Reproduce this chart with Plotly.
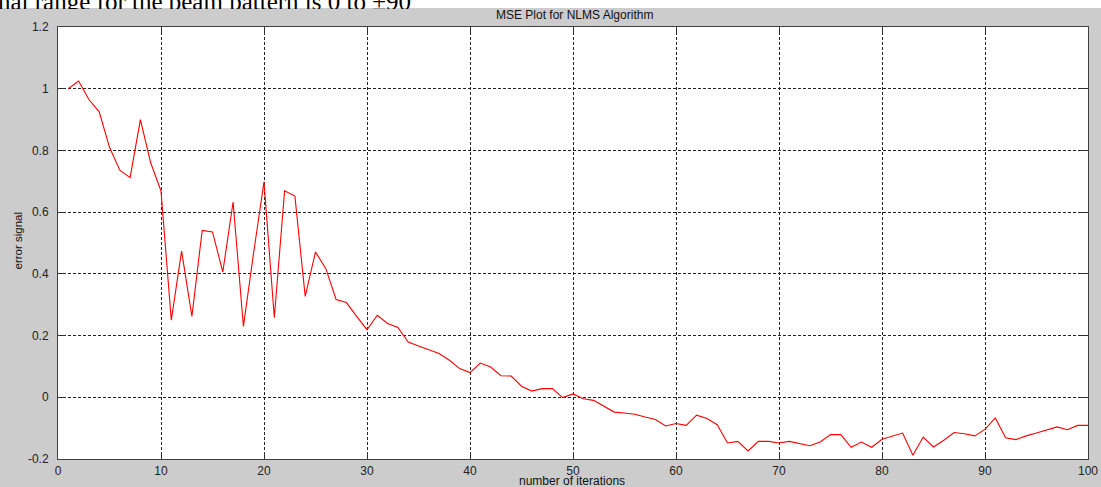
import plotly.graph_objects as go

# ---------------- data ----------------
iterations = list(range(1, 101))
error_signal = [
    1.000, 1.025, 0.965, 0.925, 0.810, 0.736, 0.712, 0.900, 0.760, 0.668,
    0.250, 0.474, 0.262, 0.541, 0.536, 0.406, 0.633, 0.230, 0.470, 0.698,
    0.258, 0.669, 0.652, 0.327, 0.471, 0.417, 0.317, 0.307, 0.262, 0.219,
    0.266, 0.239, 0.226, 0.179, 0.166, 0.155, 0.142, 0.120, 0.093, 0.080,
    0.111, 0.098, 0.070, 0.069, 0.036, 0.020, 0.028, 0.028, -0.001, 0.011,
    -0.005, -0.010, -0.029, -0.048, -0.051, -0.055, -0.064, -0.072, -0.093, -0.085,
    -0.091, -0.058, -0.069, -0.089, -0.148, -0.143, -0.174, -0.143, -0.143, -0.148,
    -0.143, -0.150, -0.157, -0.145, -0.121, -0.121, -0.162, -0.145, -0.162, -0.136,
    -0.126, -0.116, -0.188, -0.129, -0.161, -0.139, -0.114, -0.118, -0.125, -0.104,
    -0.067, -0.131, -0.137, -0.125, -0.116, -0.105, -0.096, -0.105, -0.091, -0.091,
]
x_ticks = [0, 10, 20, 30, 40, 50, 60, 70, 80, 90, 100]
y_ticks = [-0.2, 0, 0.2, 0.4, 0.6, 0.8, 1.0, 1.2]
y_tick_text = ["-0.2", "0", "0.2", "0.4", "0.6", "0.8", "1", "1.2"]

title_text = "MSE Plot for NLMS Algorithm"
x_title = "number of iterations"
y_title = "error signal"
header_text = "nal range for the beam pattern is 0 to \u00b190"

# ---------------- layout geometry ----------------
W, H = 1101, 487
L, R, T, B = 57.5, 1088.0, 27.0, 459.0
PW, PH = R - L, B - T


def px(xp):
    return (xp - L) / PW


def py(yp):
    return (B - yp) / PH


GRAY = "#cccccc"
SANS = "Liberation Sans, Arial, sans-serif"

fig = go.Figure()
fig.add_trace(go.Scatter(
    x=iterations, y=error_signal, mode="lines",
    line=dict(color="#ff0000", width=1.1), showlegend=False,
))

axis_common = dict(
    showline=True, linecolor="#404040", linewidth=1, mirror="ticks",
    ticks="inside", ticklen=7, tickcolor="#303030", tickwidth=1,
    showgrid=True, gridcolor="#222222", gridwidth=1, griddash="3px,2px",
    zeroline=False, automargin=False,
    tickfont=dict(family=SANS, size=12, color="#222222"),
)

fig.update_xaxes(range=[0, 100], tickvals=x_ticks, ticklabelstandoff=1, **axis_common)
fig.update_yaxes(range=[-0.2, 1.2], tickvals=y_ticks, ticktext=y_tick_text,
                 ticklabelstandoff=6, **axis_common)

fig.update_layout(
    width=W, height=H, autosize=False,
    margin=dict(l=L, r=W - R, t=T, b=H - B, pad=0, autoexpand=False),
    paper_bgcolor=GRAY, plot_bgcolor="white",
    shapes=[dict(type="rect", xref="paper", yref="paper",
                 x0=-0.1, x1=1.1, y0=py(8), y1=py(-40),
                 fillcolor="white", line=dict(width=0), layer="above")],
    annotations=[
        dict(text=title_text, xref="paper", yref="paper", x=px(574), y=py(15.5),
             xanchor="center", yanchor="middle", showarrow=False,
             font=dict(family=SANS, size=12, color="#111111")),
        dict(text=x_title, xref="paper", yref="paper", x=px(572), y=py(481),
             xanchor="center", yanchor="middle", showarrow=False,
             font=dict(family=SANS, size=12, color="#111111")),
        dict(text=y_title, xref="paper", yref="paper", x=px(17), y=py(241),
             xanchor="center", yanchor="middle", textangle=-90, showarrow=False,
             font=dict(family=SANS, size=11.5, color="#111111")),
        dict(text=header_text, xref="paper", yref="paper", x=px(-5), y=py(-14),
             xanchor="left", yanchor="top", valign="top", height=21,
             showarrow=False,
             font=dict(family="Liberation Serif, Times New Roman, serif", size=25,
                       color="black")),
    ],
)

fig.write_html(
    "out.html",
    config={"displayModeBar": False},
    post_script="document.body.style.margin='0';document.body.style.overflow='hidden';",
)
